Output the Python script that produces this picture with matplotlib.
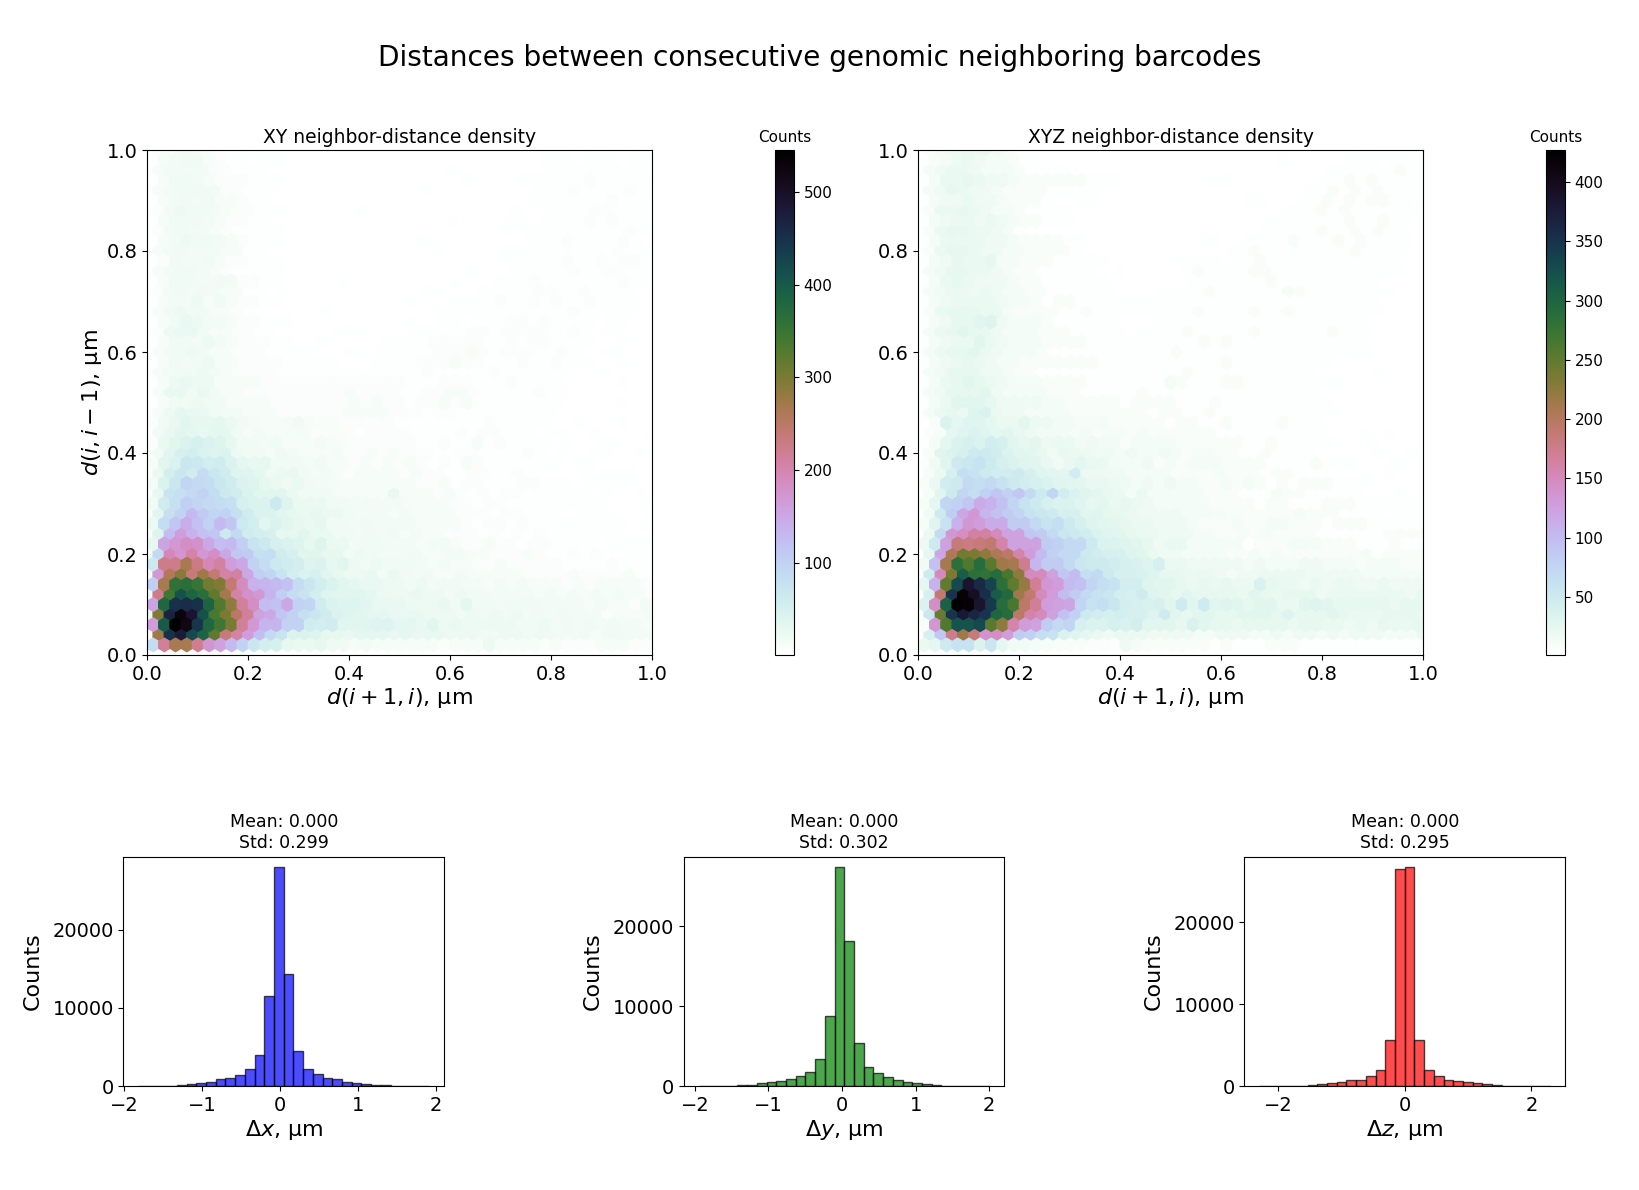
"""
Neighbor-distance density maps and per-axis displacement histograms.

Writes out.png
"""

import matplotlib
matplotlib.use("Agg")
import matplotlib.pyplot as plt
import numpy as np

FIG_W, FIG_H = 1640, 1190
GRIDSIZE = 45
ROWS_Y = 50  # hexbin rows between y=0 and y=1 (both lattices)

# Hex counts, low cells as hex digits in steps of 4 counts.
# Rows run from y=1.00 down to y=0.48, one row every 0.02.
XY_UPPER = [
    "1234432111 1000000000 0000000000 0000001101 110110",
    "1345532110 1100000000 0000000000 0000011101 11011",
    "1344442211 1000000000 0000000100 0000001111 111111",
    "1355432221 1100000000 0000000010 0001111112 11111",
    "1345554221 1100000000 0000010000 0000011121 111210",
    "1345453321 1000000000 0000000000 0000111111 12111",
    "1246554322 1110000001 0000000000 0001001111 221111",
    "1355543221 1000000000 0000000100 0011011112 12111",
    "1245443211 1110000000 0000000000 0010111111 111211",
    "1346554321 1100000000 0000110000 0000111211 11210",
    "1345444331 1000000000 0000001000 0011111111 112111",
    "1254453221 1100000000 0000000000 0011111211 21221",
    "1345543211 1110000000 0000000001 0001111121 122111",
    "1355445422 1100000100 0000000100 0111211111 11211",
    "1245454331 1010000000 0000011000 1111122112 111100",
    "1344635322 1100000000 0001000111 1211212112 11110",
    "1356553321 1000001000 0000001111 1111111121 111100",
    "1357644322 1110000000 0001001101 1122121111 01100",
    "1267753322 1100000111 0000111112 2122221121 011000",
    "1355464322 2110010000 0111122222 1121221111 00100",
    "1345653322 2111100011 0111112223 2122211210 011000",
    "1354563322 2211111000 1111222322 1112112111 00100",
    "1345564322 2211111111 1111121111 1211111100 010000",
    "1367663333 2222222222 2221112221 1121111000 00100",
    "1377575332 2222222232 2221122332 1111121100 000000",
    "1355655333 3222222232 3221223231 1111111000 00100",
    "1368775443 3322222233 3322212211 1111111000 000000",
]

# Counts of the first 18 columns, rows from y=0.02 up to y=0.46.
XY_PEAK = [
    [85, 215, 265, 265, 220, 175, 160, 130, 100, 70, 55, 50, 30, 25, 25, 30, 22, 18],
    [10, 275, 450, 480, 420, 385, 320, 235, 205, 165, 125, 90, 75, 45, 45, 40, 30, 30],
    [165, 400, 545, 520, 445, 380, 345, 300, 215, 170, 135, 135, 100, 100, 60, 55, 60, 35],
    [25, 295, 470, 530, 490, 410, 335, 300, 250, 215, 160, 150, 115, 100, 80, 70, 60, 45],
    [155, 380, 450, 455, 450, 385, 330, 285, 215, 185, 125, 120, 150, 100, 95, 60, 45, 40],
    [20, 225, 345, 410, 385, 365, 320, 270, 205, 180, 170, 135, 105, 85, 75, 55, 40, 35],
    [105, 265, 360, 365, 350, 305, 295, 240, 190, 140, 135, 130, 120, 85, 70, 55, 45, 35],
    [15, 170, 260, 290, 235, 275, 240, 205, 210, 150, 105, 95, 75, 55, 45, 50, 35, 30],
    [65, 225, 225, 265, 230, 195, 210, 165, 150, 100, 85, 65, 60, 55, 40, 45, 30, 35],
    [10, 90, 195, 175, 205, 170, 185, 150, 115, 110, 80, 85, 60, 50, 35, 35, 30, 30],
    [30, 155, 170, 185, 180, 150, 125, 130, 105, 75, 65, 50, 45, 40, 30, 40, 25, 25],
    [8, 40, 125, 165, 140, 120, 115, 65, 90, 60, 55, 50, 30, 30, 35, 25, 25, 20],
    [25, 85, 115, 145, 120, 100, 130, 115, 65, 55, 35, 45, 35, 30, 25, 30, 20, 20],
    [6, 35, 80, 100, 130, 110, 95, 100, 80, 60, 45, 45, 35, 30, 25, 30, 25, 25],
    [18, 60, 80, 105, 95, 90, 85, 80, 50, 45, 45, 65, 40, 25, 25, 25, 20, 18],
    [5, 30, 75, 80, 90, 100, 85, 65, 60, 45, 35, 35, 35, 25, 20, 18, 18, 14],
    [15, 45, 70, 95, 90, 85, 70, 60, 45, 40, 30, 25, 22, 25, 18, 16, 14, 12],
    [4, 25, 55, 70, 60, 85, 70, 60, 40, 38, 32, 22, 25, 28, 20, 14, 16, 12],
    [12, 35, 45, 70, 65, 55, 60, 45, 32, 28, 30, 20, 20, 20, 14, 18, 12, 12],
    [4, 20, 35, 50, 55, 45, 40, 45, 24, 20, 20, 14, 22, 16, 12, 12, 12, 14],
    [8, 25, 35, 45, 50, 45, 40, 30, 20, 20, 16, 18, 12, 12, 12, 16, 12, 10],
    [3, 18, 28, 36, 32, 28, 32, 32, 18, 12, 16, 12, 12, 14, 14, 8, 10, 10],
    [8, 18, 28, 36, 30, 30, 32, 26, 18, 14, 12, 12, 14, 18, 12, 10, 10, 8],
]

# Remaining columns of the same rows (y=0.02 up to y=0.46), hex digits again.
XY_TAIL = [
    "343333332 333633332 322233322",
    "788878777 666556656 5445355444",
    "99aa88796 766666556 454545443",
    "a98877766 656565645 4544423334",
    "a97776667 585545554 444343324",
    "998666766 465544443 4343434332",
    "877665645 544343433 323233332",
    "667475453 343333322 2232222311",
    "656555434 332232222 211112111",
    "565444533 443322232 1121210111",
    "455444344 322322122 111101111",
    "545453433 222121212 1111111000",
    "454444333 321221211 111111101",
    "544434333 322212211 1001110001",
    "444443333 221221111 111110001",
    "333373332 321212211 1111010010",
    "333333223 122111221 110111100",
    "233332322 112211211 0001011100",
    "232323212 132111111 101100000",
    "223232221 122111121 0100110010",
    "222222112 113121111 010011000",
    "212222111 121221110 1100100001",
    "222211111 111211111 001000100",
]
XY_BOTTOM = "1111222222 1111111111 1111110101 0111011011 011010"

XYZ_UPPER = [
    "1234556421 1000000000 0000000000 0000000001 011110",
    "1234543321 1000000000 0000000000 0010000011 10111",
    "1345543332 1111000000 0000000000 0000000111 111210",
    "1355654432 2222211100 0000001100 0000001121 21111",
    "1346544322 2211111000 0000000000 0000011212 121110",
    "1344544322 2100110000 0000000001 1000112121 22110",
    "1255654332 1111000000 0000000000 0001112121 111110",
    "1345545432 2111000000 0000000000 0111111121 12110",
    "1256655431 1000000000 0000000000 0111112112 121100",
    "1355554432 2221100000 0000011001 1112111212 11110",
    "1256654433 2222100000 0000000011 2111111112 111100",
    "1346556332 2211111000 0001111011 2111111111 11100",
    "1346655432 2111110010 0000121111 2211111111 111100",
    "1356544432 2111111000 0000111111 1211111111 10000",
    "1345545433 2211111100 0011112111 1113211111 111000",
    "1345555433 2122111111 1111111111 1111111111 10000",
    "1256665532 2221121111 1111121111 2112111111 110000",
    "1346678433 3211111100 0111111111 1111111111 00000",
    "1356766433 3222111110 1111211111 2111111211 100000",
    "1345575433 3222211111 1111121211 1111111111 00000",
    "1356675433 3211111111 1112111111 1111111111 100000",
    "1345654332 2222221111 1111111211 1111111000 00000",
    "1346664432 2111111111 1111211111 1111110000 010000",
    "1356765433 3222211111 1132111221 1111111100 00000",
    "1346667433 3322211111 2111111111 1111110000 000000",
    "1357776444 4332222212 2221112111 1111111000 00000",
    "1356589544 3333222222 2122112111 1111111100 000000",
]

XYZ_PEAK = [
    [20, 25, 50, 60, 60, 35, 55, 25, 15, 15, 12, 10, 8, 8, 8, 6, 6, 5],
    [5, 40, 90, 175, 215, 185, 140, 145, 130, 85, 80, 65, 60, 35, 30, 25, 20, 15],
    [8, 135, 260, 320, 320, 330, 255, 225, 160, 130, 125, 85, 70, 75, 40, 35, 35, 40],
    [5, 55, 245, 350, 380, 365, 350, 300, 290, 195, 160, 150, 125, 95, 80, 50, 45, 40],
    [35, 145, 305, 425, 420, 385, 345, 290, 265, 195, 170, 130, 125, 120, 75, 60, 65, 55],
    [5, 40, 190, 350, 420, 395, 355, 310, 295, 215, 190, 150, 130, 100, 85, 70, 60, 55],
    [25, 110, 250, 330, 385, 360, 335, 285, 250, 220, 170, 135, 130, 100, 95, 75, 65, 60],
    [5, 50, 150, 235, 310, 285, 280, 290, 265, 225, 150, 150, 125, 90, 100, 65, 70, 50],
    [15, 95, 210, 285, 260, 290, 255, 215, 210, 175, 105, 85, 85, 70, 55, 50, 50, 45],
    [3, 25, 120, 205, 240, 235, 225, 205, 195, 160, 130, 100, 80, 70, 70, 50, 45, 40],
    [18, 50, 125, 185, 180, 185, 190, 160, 125, 125, 125, 85, 80, 70, 70, 50, 35, 35],
    [3, 20, 70, 135, 145, 165, 165, 150, 125, 125, 90, 85, 70, 55, 50, 45, 35, 30],
    [10, 30, 60, 110, 135, 130, 115, 115, 85, 85, 70, 60, 65, 50, 40, 32, 28, 26],
    [3, 15, 50, 85, 120, 135, 105, 95, 85, 75, 60, 55, 50, 40, 40, 28, 30, 24],
    [10, 25, 75, 80, 90, 115, 110, 95, 75, 60, 50, 40, 35, 35, 30, 24, 26, 20],
    [3, 10, 30, 50, 75, 65, 80, 90, 80, 90, 70, 50, 75, 45, 35, 30, 26, 22],
    [8, 20, 45, 50, 70, 65, 70, 60, 50, 45, 40, 35, 30, 28, 26, 22, 22, 18],
    [2, 10, 20, 40, 65, 60, 50, 45, 45, 50, 40, 30, 28, 26, 45, 18, 18, 16],
    [5, 15, 30, 50, 55, 60, 50, 40, 35, 30, 28, 22, 15, 22, 26, 22, 20, 14],
    [2, 8, 30, 35, 40, 50, 50, 45, 35, 28, 26, 22, 15, 22, 20, 18, 16, 16],
    [4, 12, 25, 35, 40, 35, 45, 40, 28, 24, 26, 18, 20, 18, 14, 16, 14, 14],
    [1, 6, 10, 25, 30, 35, 30, 25, 28, 22, 18, 14, 14, 14, 10, 14, 8, 12],
    [3, 8, 35, 25, 30, 30, 25, 20, 20, 26, 18, 18, 14, 14, 10, 10, 12, 8],
]

XYZ_TAIL = [
    "432222221 211122211 111111111",
    "555444433 444334344 3434443335",
    "9b7776976 656666566 554546556",
    "baa8c7677 667776866 6765556665",
    "ba9a7c7c7 876775578 766666566",
    "bac876766 665765666 4555555546",
    "bb8776565 655965545 455445444",
    "aa9866555 434455554 4444333333",
    "a98a55444 443433344 333233322",
    "a87544333 322323222 2222312222",
    "876455333 331222333 222111211",
    "765544433 223232222 1111112222",
    "655444322 232233222 122211111",
    "654444333 322222232 2211110111",
    "654333332 222122111 222111111",
    "535333332 221113221 1111000100",
    "434343322 323212122 211100000",
    "433332222 322212211 1000101000",
    "334232333 222211112 111000100",
    "343343233 221121111 0000010010",
    "233332222 221121111 100010000",
    "323222222 111111111 1000101000",
    "222212211 211112111 000000000",
]
XYZ_BOTTOM = "1111111111 1000000000 0000000000 0000000100 000000"

COUNT_MAX_XY = 545
COUNT_MAX_XYZ = 427
CBAR_TICKS_XY = [100, 200, 300, 400, 500]
CBAR_TICKS_XYZ = [50, 100, 150, 200, 250, 300, 350, 400]

# Displacement histograms, 30 equal bins between the two range ends.
RANGE_X = (-1.82, 1.92)
COUNTS_X = [5, 15, 25, 40, 130, 250, 380, 550, 850, 1060, 1400, 2130, 3915, 11490, 27960,
            14380, 4510, 2210, 1490, 1060, 940, 550, 340, 210, 120, 80, 60, 20, 15, 5]
RANGE_Y = (-1.95, 2.01)
COUNTS_Y = [5, 10, 15, 30, 100, 125, 330, 460, 665, 915, 1250, 1790, 3415, 8790, 27375,
            18125, 5415, 2375, 1580, 1165, 790, 540, 330, 200, 110, 60, 25, 15, 8, 3]
RANGE_Z = (-2.30, 2.30)
COUNTS_Z = [3, 8, 10, 20, 50, 100, 200, 320, 450, 690, 770, 1220, 1990, 5610, 26460,
            26700, 5610, 1990, 1220, 770, 570, 450, 320, 200, 90, 40, 25, 10, 5, 3]

STATS = [("Mean: 0.000", "Std: 0.299"), ("Mean: 0.000", "Std: 0.302"), ("Mean: 0.000", "Std: 0.295")]
HIST_COLORS = ["blue", "green", "red"]
HIST_XLABELS = [r"$\Delta x$, µm", r"$\Delta y$, µm", r"$\Delta z$, µm"]
HIST_XTICKS = [[-2, -1, 0, 1, 2], [-2, -1, 0, 1, 2], [-2, 0, 2]]
HIST_YTICKS = [0, 10000, 20000]

TITLE = "Distances between consecutive genomic neighboring barcodes"
LABEL_X = r"$d(i+1, i)$, µm"
LABEL_Y = r"$d(i, i-1)$, µm"

TICK_SIZE = 14
LABEL_SIZE = 16


def add_axes_px(fig, left, top, right, bottom):
    """Axes placed by pixel edges, y measured from the top of the figure."""
    return fig.add_axes([left / FIG_W, 1 - bottom / FIG_H,
                         (right - left) / FIG_W, (bottom - top) / FIG_H])


def digits(row):
    return [int(ch, 16) * 4 for ch in row.replace(" ", "")]


def assemble_rows(upper, peak, tail, bottom):
    """Row lists indexed by y position, row 0 at y=0."""
    rows = [digits(bottom)]
    for head, rest in zip(peak, tail):
        rows.append(list(head) + digits(rest))
    rows += [digits(row) for row in reversed(upper)]
    return rows


def hex_cells(rows):
    """Cell centres of the two hexbin lattices with their counts."""
    xs, ys, cs = [], [], []
    for idx, row in enumerate(rows):
        shift = 0.5 if idx % 2 else 0.0
        for col, count in enumerate(row):
            xs.append((col + shift) / GRIDSIZE)
            ys.append(idx / ROWS_Y)
            cs.append(count)
    return np.array(xs), np.array(ys), np.array(cs, dtype=float)


def density_panel(fig, box, cbox, rows, vmax, cticks, title, ylabel=None):
    ax = add_axes_px(fig, *box)
    x, y, c = hex_cells(rows)
    hb = ax.hexbin(x, y, C=c, gridsize=GRIDSIZE, extent=(0, 1, 0, 1), cmap="cubehelix_r",
                   vmin=1, vmax=vmax)
    ax.set_xlim(0, 1)
    ax.set_ylim(0, 1)
    ax.set_title(title, fontsize=13.5, pad=5)
    ax.set_xlabel(LABEL_X, fontsize=LABEL_SIZE, labelpad=2)
    if ylabel:
        ax.set_ylabel(ylabel, fontsize=LABEL_SIZE, labelpad=2)
    ax.tick_params(labelsize=TICK_SIZE)

    cax = add_axes_px(fig, *cbox)
    cb = fig.colorbar(hb, cax=cax)
    cb.set_ticks(cticks)
    cb.ax.tick_params(labelsize=11)
    cax.set_title("Counts", fontsize=11, pad=6)


def hist_panel(fig, box, counts, span, color, stats, xlabel, xticks):
    ax = add_axes_px(fig, *box)
    edges = np.linspace(span[0], span[1], len(counts) + 1)
    ax.bar(edges[:-1], counts, width=np.diff(edges), align="edge", color=color, alpha=0.7,
           edgecolor="black")
    ax.set_title("\n".join(stats), fontsize=12.5, pad=6, linespacing=1.2)
    ax.set_xlabel(xlabel, fontsize=LABEL_SIZE, labelpad=2)
    ax.set_ylabel("Counts", fontsize=LABEL_SIZE, labelpad=7)
    ax.set_xticks(xticks)
    ax.set_yticks(HIST_YTICKS)
    ax.tick_params(labelsize=TICK_SIZE)


def main() -> None:
    fig = plt.figure(figsize=(FIG_W / 100, FIG_H / 100), dpi=100)
    fig.text(820 / FIG_W, 1 - 58.5 / FIG_H, TITLE, ha="center", va="center", fontsize=20.2)

    density_panel(fig, (147.5, 150, 652, 655), (775, 150, 794, 655),
                  assemble_rows(XY_UPPER, XY_PEAK, XY_TAIL, XY_BOTTOM),
                  COUNT_MAX_XY, CBAR_TICKS_XY, "XY neighbor-distance density", LABEL_Y)
    density_panel(fig, (918.5, 150, 1423, 655), (1546, 150, 1565, 655),
                  assemble_rows(XYZ_UPPER, XYZ_PEAK, XYZ_TAIL, XYZ_BOTTOM),
                  COUNT_MAX_XYZ, CBAR_TICKS_XYZ, "XYZ neighbor-distance density")

    lefts = [123.5, 684, 1244.5]
    counts = [COUNTS_X, COUNTS_Y, COUNTS_Z]
    spans = [RANGE_X, RANGE_Y, RANGE_Z]
    for i, left in enumerate(lefts):
        hist_panel(fig, (left, 856.5, left + 320.5, 1086), counts[i], spans[i], HIST_COLORS[i],
                   STATS[i], HIST_XLABELS[i], HIST_XTICKS[i])

    fig.savefig("out.png", dpi=100)
    plt.close(fig)


if __name__ == "__main__":
    main()
